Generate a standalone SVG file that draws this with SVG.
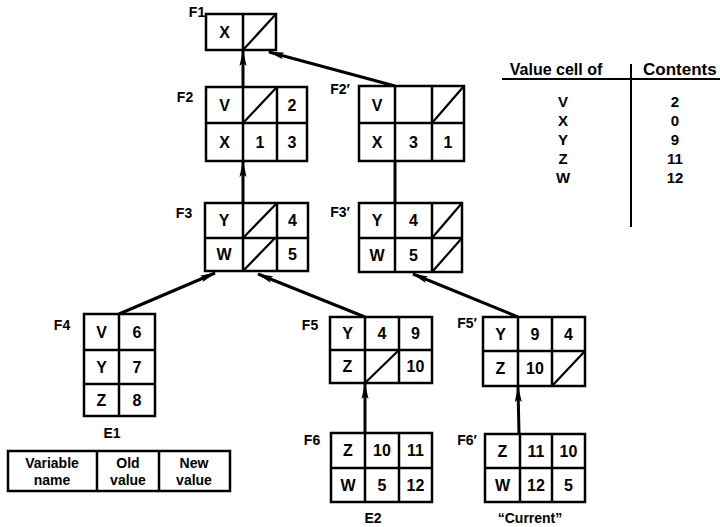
<svg xmlns="http://www.w3.org/2000/svg" width="720" height="527" viewBox="0 0 720 527">
<style>
.box{fill:#fff;stroke:#000;stroke-width:2.5}
.ln{stroke:#000;stroke-width:2.5;fill:none}
.dg{stroke:#000;stroke-width:2.2;fill:none}
.t{font-family:"Liberation Sans","DejaVu Sans",sans-serif;font-weight:bold;font-size:16px;text-anchor:middle;dominant-baseline:central;fill:#000}
.lb{font-family:"Liberation Sans","DejaVu Sans",sans-serif;font-weight:bold;font-size:14px;text-anchor:middle;dominant-baseline:central;fill:#000}
.hd{font-family:"Liberation Sans","DejaVu Sans",sans-serif;font-weight:bold;font-size:16px;fill:#000}
.tv{font-family:"Liberation Sans","DejaVu Sans",sans-serif;font-weight:bold;font-size:15px;text-anchor:middle;dominant-baseline:central;fill:#000}
.sm{font-family:"Liberation Sans","DejaVu Sans",sans-serif;font-weight:bold;font-size:14px;text-anchor:middle;fill:#000}
.cn{stroke:#000;stroke-width:3;fill:none}
.ar{marker-end:url(#ah)}
</style>
<defs>
<marker id="ah" markerUnits="userSpaceOnUse" markerWidth="16" markerHeight="8" refX="15" refY="4" orient="auto">
<path d="M0,0.5 L16,4 L0,7.5 L3,4 Z" fill="#000"/>
</marker>
</defs>
<g id="connectors">
<line class="cn ar" x1="243" y1="87" x2="243" y2="51"/>
<line class="cn ar" x1="395" y1="86" x2="269" y2="52"/>
<line class="cn ar" x1="243" y1="203" x2="243" y2="162"/>
<line class="cn" x1="395" y1="203" x2="395" y2="161"/>
<line class="cn ar" x1="119" y1="314" x2="215" y2="273"/>
<line class="cn ar" x1="365" y1="317" x2="258" y2="274"/>
<line class="cn ar" x1="518" y1="317" x2="413" y2="274"/>
<line class="cn ar" x1="365" y1="433" x2="365" y2="384"/>
<line class="cn ar" x1="519" y1="434" x2="518" y2="387"/>
</g>
<g id="F1">
<rect class="box" x="206" y="14" width="70" height="36"/>
<line class="ln" x1="243" y1="14" x2="243" y2="50"/>
<line class="dg" x1="243" y1="50" x2="276" y2="14"/>
<text class="t" x="224.5" y="32">X</text>
<text class="lb" x="197" y="12">F1</text>
</g>
<g id="F2">
<rect class="box" x="206" y="87" width="101" height="74"/>
<line class="ln" x1="206" y1="123" x2="307" y2="123"/>
<line class="ln" x1="243" y1="87" x2="243" y2="161"/>
<line class="ln" x1="277" y1="87" x2="277" y2="161"/>
<line class="dg" x1="243" y1="123" x2="277" y2="87"/>
<text class="t" x="224.5" y="105">V</text>
<text class="t" x="292" y="105">2</text>
<text class="t" x="224.5" y="142">X</text>
<text class="t" x="260" y="142">1</text>
<text class="t" x="292" y="142">3</text>
<text class="lb" x="185" y="97">F2</text>
</g>
<g id="F2p">
<rect class="box" x="359" y="86" width="105" height="75"/>
<line class="ln" x1="359" y1="123" x2="464" y2="123"/>
<line class="ln" x1="395" y1="86" x2="395" y2="161"/>
<line class="ln" x1="432" y1="86" x2="432" y2="161"/>
<line class="dg" x1="432" y1="123" x2="464" y2="86"/>
<text class="t" x="377" y="105">V</text>
<text class="t" x="377" y="142">X</text>
<text class="t" x="413.5" y="142">3</text>
<text class="t" x="448" y="142">1</text>
<text class="lb" x="340" y="89">F2′</text>
</g>
<g id="F3">
<rect class="box" x="205" y="203" width="103" height="68"/>
<line class="ln" x1="205" y1="238" x2="308" y2="238"/>
<line class="ln" x1="243" y1="203" x2="243" y2="271"/>
<line class="ln" x1="277" y1="203" x2="277" y2="271"/>
<line class="dg" x1="243" y1="238" x2="277" y2="203"/>
<line class="dg" x1="243" y1="271" x2="275" y2="238"/>
<text class="t" x="224" y="220.5">Y</text>
<text class="t" x="292.5" y="220.5">4</text>
<text class="t" x="224" y="254.5">W</text>
<text class="t" x="292.5" y="254.5">5</text>
<text class="lb" x="184" y="213">F3</text>
</g>
<g id="F3p">
<rect class="box" x="359" y="203" width="103" height="69"/>
<line class="ln" x1="359" y1="238" x2="462" y2="238"/>
<line class="ln" x1="395" y1="203" x2="395" y2="272"/>
<line class="ln" x1="432" y1="203" x2="432" y2="272"/>
<line class="dg" x1="432" y1="238" x2="462" y2="203"/>
<line class="dg" x1="432" y1="272" x2="462" y2="238"/>
<text class="t" x="377" y="220.5">Y</text>
<text class="t" x="413.5" y="220.5">4</text>
<text class="t" x="377" y="255">W</text>
<text class="t" x="413.5" y="255">5</text>
<text class="lb" x="340" y="212">F3′</text>
</g>
<g id="table">
<text class="hd" x="556" y="75" text-anchor="middle">Value cell of</text>
<text class="hd" x="643" y="75" style="font-size:17px">Contents</text>
<line class="ln" x1="502" y1="79" x2="720" y2="79" style="stroke-width:2"/>
<line class="ln" x1="631" y1="64" x2="631" y2="227" style="stroke-width:2"/>
<text class="tv" x="563" y="101">V</text>
<text class="tv" x="675" y="101">2</text>
<text class="tv" x="563" y="120">X</text>
<text class="tv" x="675" y="120">0</text>
<text class="tv" x="563" y="139">Y</text>
<text class="tv" x="675" y="139">9</text>
<text class="tv" x="563" y="158">Z</text>
<text class="tv" x="675" y="158">11</text>
<text class="tv" x="563" y="177">W</text>
<text class="tv" x="675" y="177">12</text>
</g>
<g id="F4">
<rect class="box" x="84" y="314" width="71" height="102"/>
<line class="ln" x1="84" y1="350" x2="155" y2="350"/>
<line class="ln" x1="84" y1="384" x2="155" y2="384"/>
<line class="ln" x1="119" y1="314" x2="119" y2="416"/>
<text class="t" x="101.5" y="332">V</text>
<text class="t" x="137" y="332">6</text>
<text class="t" x="101.5" y="367">Y</text>
<text class="t" x="137" y="367">7</text>
<text class="t" x="101.5" y="400">Z</text>
<text class="t" x="137" y="400">8</text>
<text class="lb" x="62" y="325">F4</text>
<text class="lb" x="112" y="433">E1</text>
</g>
<g id="legend">
<rect class="box" x="8" y="451" width="222" height="40"/>
<line class="ln" x1="97" y1="451" x2="97" y2="491"/>
<line class="ln" x1="159" y1="451" x2="159" y2="491"/>
<text class="sm" x="52" y="468">Variable</text>
<text class="sm" x="52" y="485">name</text>
<text class="sm" x="128" y="468">Old</text>
<text class="sm" x="128" y="485">value</text>
<text class="sm" x="194" y="468">New</text>
<text class="sm" x="194" y="485">value</text>
</g>
<g id="F5">
<rect class="box" x="330" y="317" width="102" height="66"/>
<line class="ln" x1="330" y1="350" x2="432" y2="350"/>
<line class="ln" x1="365" y1="317" x2="365" y2="383"/>
<line class="ln" x1="399" y1="317" x2="399" y2="383"/>
<line class="dg" x1="365" y1="383" x2="399" y2="350"/>
<text class="t" x="347.5" y="333.5">Y</text>
<text class="t" x="382" y="333.5">4</text>
<text class="t" x="415.5" y="333.5">9</text>
<text class="t" x="347.5" y="366.5">Z</text>
<text class="t" x="415.5" y="366.5">10</text>
<text class="lb" x="310" y="325">F5</text>
</g>
<g id="F5p">
<rect class="box" x="483" y="317" width="102" height="69"/>
<line class="ln" x1="483" y1="351" x2="585" y2="351"/>
<line class="ln" x1="518" y1="317" x2="518" y2="386"/>
<line class="ln" x1="552" y1="317" x2="552" y2="386"/>
<line class="dg" x1="552" y1="386" x2="585" y2="351"/>
<text class="t" x="500.5" y="334">Y</text>
<text class="t" x="535" y="334">9</text>
<text class="t" x="568.5" y="334">4</text>
<text class="t" x="500.5" y="368.5">Z</text>
<text class="t" x="535" y="368.5">10</text>
<text class="lb" x="467" y="323">F5′</text>
</g>
<g id="F6">
<rect class="box" x="331" y="433" width="101" height="69"/>
<line class="ln" x1="331" y1="468" x2="432" y2="468"/>
<line class="ln" x1="365" y1="433" x2="365" y2="502"/>
<line class="ln" x1="399" y1="433" x2="399" y2="502"/>
<text class="t" x="348" y="450.5">Z</text>
<text class="t" x="382" y="450.5">10</text>
<text class="t" x="415.5" y="450.5">11</text>
<text class="t" x="348" y="485">W</text>
<text class="t" x="382" y="485">5</text>
<text class="t" x="415.5" y="485">12</text>
<text class="lb" x="312" y="440">F6</text>
<text class="lb" x="373" y="518">E2</text>
</g>
<g id="F6p">
<rect class="box" x="485" y="434" width="100" height="68"/>
<line class="ln" x1="485" y1="468" x2="585" y2="468"/>
<line class="ln" x1="520" y1="434" x2="520" y2="502"/>
<line class="ln" x1="552" y1="434" x2="552" y2="502"/>
<text class="t" x="502.5" y="451">Z</text>
<text class="t" x="536" y="451">11</text>
<text class="t" x="568.5" y="451">10</text>
<text class="t" x="502.5" y="485">W</text>
<text class="t" x="536" y="485">12</text>
<text class="t" x="568.5" y="485">5</text>
<text class="lb" x="467" y="440">F6′</text>
<text class="lb" x="530" y="518">“Current”</text>
</g>
</svg>
